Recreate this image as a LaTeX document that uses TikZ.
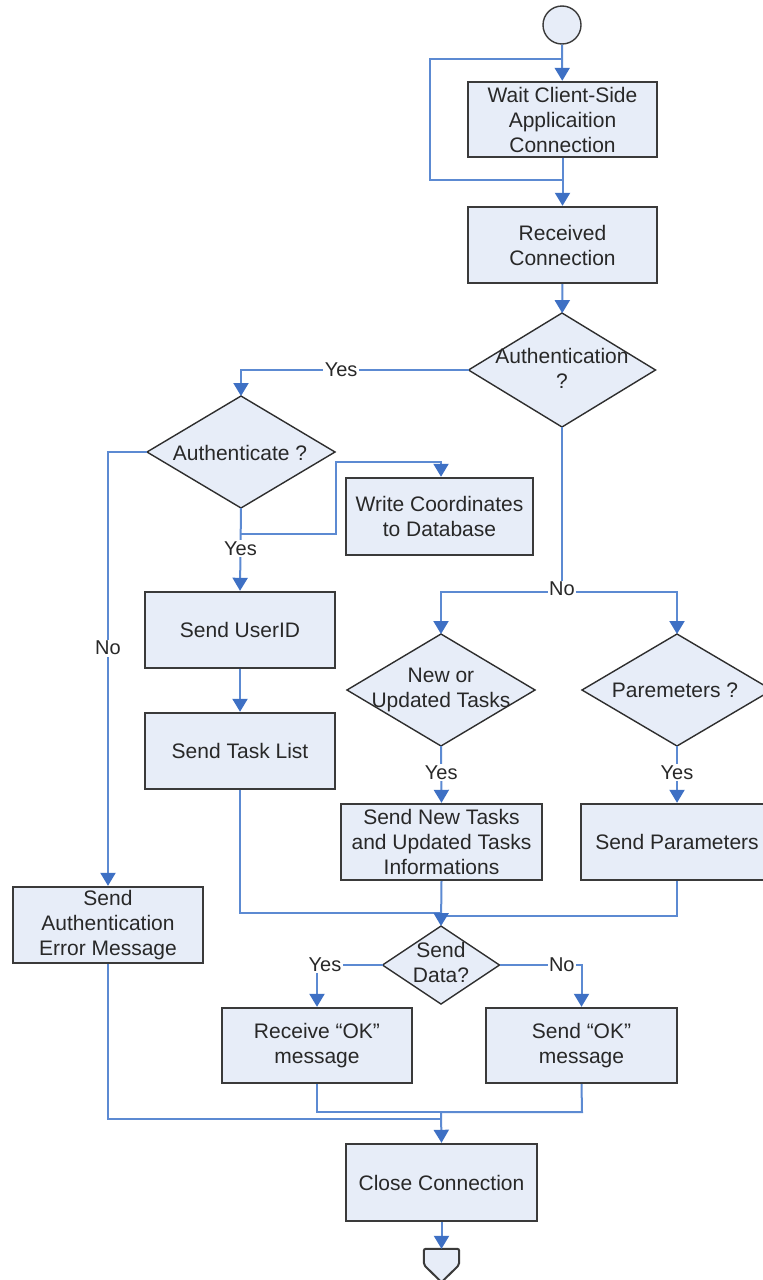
\documentclass[tikz,border=0pt]{standalone}
\usepackage{fontspec}
\setmainfont{Liberation Sans}
\usetikzlibrary{arrows.meta,shapes.geometric,calc}
\definecolor{boxfill}{RGB}{231,237,248}
\definecolor{boxedge}{RGB}{58,58,58}
\definecolor{linec}{RGB}{92,138,210}
\definecolor{arrc}{RGB}{62,112,196}
\definecolor{txt}{RGB}{40,40,40}
\tikzset{
  procbox/.style={rectangle, draw=boxedge, line width=2.4pt, fill=boxfill, align=center,
    text=txt, font=\fontsize{21}{25}\selectfont, inner sep=0pt},
  decision/.style={diamond, draw=boxedge!80!black, line width=1.4pt, fill=boxfill,
    inner sep=0pt, outer sep=0pt},
  dtext/.style={align=center, text=txt, font=\fontsize{21}{25}\selectfont, inner sep=0pt},
  ln/.style={draw=linec, line width=2pt},
  arr/.style={ln, -{Triangle[width=15pt,length=13pt,color=arrc]}},
  lbl/.style={fill=white, text=txt, font=\fontsize{20}{24}\selectfont, inner sep=1.5pt},
}
\begin{document}
\begin{tikzpicture}[x=1pt,y=-1pt]
\useasboundingbox (0,0) rectangle (763,1280);
\fill[white] (0,0) rectangle (763,1280);
\clip (0,0) rectangle (763,1280);

% ---- nodes ----
\node[circle, draw=boxedge, line width=1.4pt, fill=boxfill, minimum size=38pt, inner sep=0pt] (start) at (562,25) {};
\node[procbox, minimum width=189pt, minimum height=75pt] (wait) at (562.5,119.5) {Wait Client-Side\\Applicaition\\Connection};
\node[procbox, minimum width=189pt, minimum height=76pt] (recv) at (562.5,245) {Received\\Connection};

\node[decision, minimum width=187pt, minimum height=114pt] (auth) at (562,370) {};
\node[dtext] (authT) at (562,368) {Authentication\\?};

\node[decision, minimum width=188pt, minimum height=112pt] (authc) at (241,452) {};
\node[dtext] (authcT) at (240,453) {Authenticate ?};

\node[procbox, minimum width=187pt, minimum height=77pt] (write) at (439.5,516.5) {Write Coordinates\\to Database};
\node[procbox, minimum width=190pt, minimum height=76pt] (userid) at (240,630) {Send UserID};
\node[procbox, minimum width=190pt, minimum height=76pt] (tasks) at (240,751) {Send Task List};
\node[procbox, minimum width=190pt, minimum height=76pt] (err) at (108,925) {Send\\Authentication\\Error Message};

\node[decision, minimum width=188pt, minimum height=112pt] (newt) at (441,690) {};
\node[dtext] (newtT) at (441,690) {New or\\Updated Tasks};
\node[decision, minimum width=190pt, minimum height=112pt] (param) at (677,690) {};
\node[dtext] (paramT) at (675,690) {Paremeters ?};

\node[procbox, minimum width=201pt, minimum height=76pt] (sendnew) at (441.5,842) {Send New Tasks\\and Updated Tasks\\Informations};
\node[procbox, minimum width=192pt, minimum height=76pt] (sendpar) at (677,842) {Send Parameters};

\node[decision, minimum width=117pt, minimum height=78pt] (sdata) at (441,965) {};
\node[dtext] (sdataT) at (441,962) {Send\\Data?};

\node[procbox, minimum width=190pt, minimum height=75pt] (recvok) at (317,1045.5) {Receive “OK”\\message};
\node[procbox, minimum width=191pt, minimum height=75pt] (sendok) at (581.5,1045.5) {Send “OK”\\message};
\node[procbox, minimum width=191pt, minimum height=77pt] (close) at (441.5,1182.5) {Close Connection};

% off-page connector
\node[inner sep=0pt, minimum width=35pt, minimum height=33pt] (stop) at (441.5,1265.5) {};
\filldraw[draw=boxedge, line width=2pt, fill=boxfill, rounded corners=2pt]
  (stop.north west) -- (stop.north east) -- ($(stop.north east)+(0,16)$)
  -- (stop.south) -- ($(stop.north west)+(0,16)$) -- cycle;

% ---- helper coordinates ----
\coordinate (lp1) at (562,180);
\coordinate (lp2) at (430,180);
\coordinate (lp3) at (430,59);
\coordinate (lp4) at (562,59);
\coordinate (wb1) at (240,534);
\coordinate (wb2) at (336,534);
\coordinate (wb3) at (336,462);
\coordinate (wb4) at (441,462);
\coordinate (nosplit) at (562,592);
\coordinate (m1) at (240,913);
\coordinate (m2) at (441,913);
\coordinate (m3) at (677,916);
\coordinate (m4) at (441,916);
\coordinate (b1) at (317,1112);
\coordinate (b2) at (582,1112);
\coordinate (b3) at (108,1119);
\coordinate (b4) at (441,1119);
\coordinate (j) at (441,1112);

% ---- connectors ----
\draw[arr] (start) -- (wait);
\draw[arr] (wait) -- (recv);
\draw[ln] (lp1) -- (lp2) -- (lp3) -- (lp4);
\draw[arr] (recv) -- (auth);

\draw[arr] (auth.west) -| node[lbl, pos=0.28] {Yes} (authc.north);
\draw[arr] (authc.south) -- node[lbl, pos=0.49] {Yes} (userid.north);
\draw[arr] (wb1) -- (wb2) -- (wb3) -- (wb4) -- (wb4 |- write.north);
\draw[arr] (authc.west) -| node[lbl, pos=0.726] {No} (err.north);
\draw[arr] (userid) -- (tasks);

\draw[ln] (auth.south) -- (nosplit);
\draw[arr] (nosplit) -| (newt.north);
\draw[arr] (nosplit) -| (param.north);
\node[lbl] (nolbl) at (562,589) {No};

\draw[arr] (newt.south) -- node[lbl, pos=0.47] {Yes} (sendnew.north);
\draw[arr] (param.south) -- node[lbl, pos=0.47] {Yes} (sendpar.north);

\draw[ln] (tasks.south) -- (m1) -- (m2);
\draw[ln] (sendpar.south) -- (m3) -- (m4);
\draw[arr] (sendnew.south) -- (sdata.north);

\draw[arr] (sdata.west) -| node[lbl, pos=0.5, xshift=8pt] {Yes} (recvok.north);
\draw[arr] (sdata.east) -| node[lbl, pos=0.38] {No} (sendok.north);

\draw[ln] (recvok.south) -- (b1) -- (j);
\draw[ln] (sendok.south) -- (b2) -- (j);
\draw[ln] (err.south) -- (b3) -- (b4);
\draw[arr] (j) -- (close.north);
\draw[arr] (close) -- (stop);
\end{tikzpicture}
\end{document}
